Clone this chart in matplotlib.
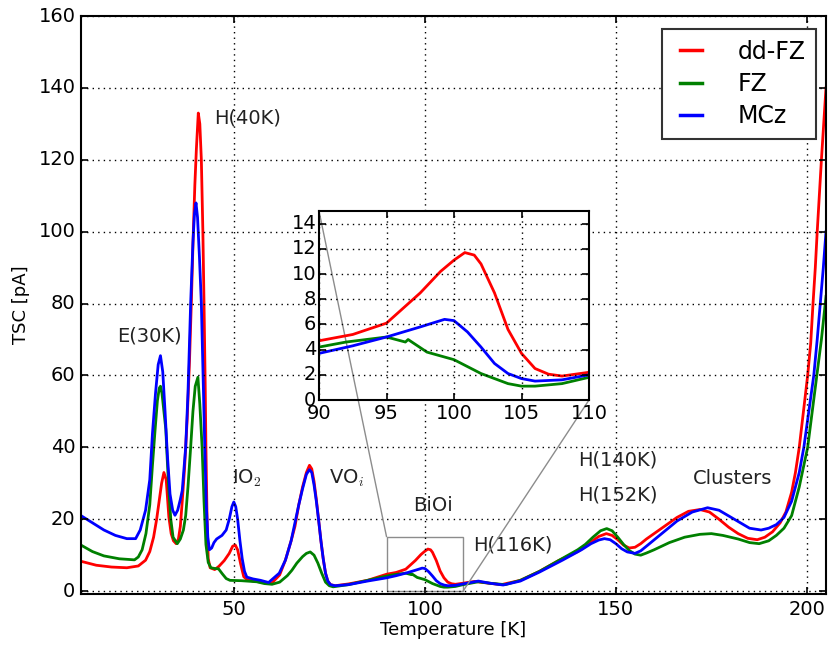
import matplotlib
matplotlib.use("Agg")
import matplotlib.pyplot as plt
from mpl_toolkits.axes_grid1.inset_locator import mark_inset

plt.style.use("classic")
plt.rcParams["font.family"] = ["DejaVu Sans"]

# ---- data ----
ddfz_T = [10, 14, 18, 22, 25, 26.9, 28, 29, 29.8, 30.5,
          31.1, 31.7, 32.3, 33, 33.6, 34.2, 34.9, 35.5, 36, 36.5,
          37.1, 37.8, 38.4, 38.9, 39.4, 39.8, 40.2, 40.7, 41.1, 41.5,
          41.9, 42.2, 42.5, 42.7, 43, 43.3, 43.8, 45, 46.1, 47.5,
          48.8, 49.7, 50.4, 51, 51.8, 52.6, 53.5, 55, 58, 60,
          62, 63.5, 65, 66, 67, 68, 69, 69.8, 70.4, 71,
          71.6, 72.2, 72.8, 73.4, 74, 74.6, 75.3, 76.5, 80, 85,
          90, 92.5, 95, 97.5, 99, 100, 100.8, 101.5, 102, 103, 104,
          105, 106, 107, 108, 110, 113, 116, 120, 125, 130,
          135, 140, 143, 145.5, 147.5, 149, 150.5, 152, 153.5, 155,
          156.5, 158, 162, 166, 169, 172, 174.5, 177, 179.5, 182,
          184.5, 187, 189, 191, 193, 194.5, 196, 197, 198, 199.2,
          200.2, 201, 201.6, 202.2, 202.7, 203.3, 203.8, 204.4, 205]
ddfz_I = [8.3, 7.2, 6.7, 6.5, 7, 8.6, 11, 15, 20, 25.5,
          30, 33, 31, 20.6, 16, 14, 13.2, 14.5, 18, 25,
          34, 48, 64, 81, 100, 113, 123, 133, 130, 120,
          100, 80, 58, 40, 20, 9, 6.5, 6, 6.9, 8.5,
          10.5, 12.5, 12.8, 11.5, 7.5, 4, 3.2, 2.8, 2.4, 2.3,
          4.5, 8.6, 14, 18, 24, 29, 33, 35, 34, 30.5,
          25.5, 19.7, 14, 9, 5, 2.8, 1.8, 1.5, 2, 3,
          4.7, 5.2, 6.1, 8.5, 10.2, 11.1, 11.7, 11.5, 10.8, 8.5, 5.6,
          3.7, 2.5, 2.05, 1.9, 2.2, 2.7, 2.3, 1.8, 3, 5.5,
          8.5, 11, 13.3, 15.2, 16, 15.5, 14.3, 12.8, 12, 12.2,
          13.2, 14.5, 17.5, 20.5, 22.2, 22.7, 22, 20, 17.8, 16,
          14.7, 14.3, 15, 16.5, 19, 22, 27.5, 33, 40, 51,
          60, 69, 80, 90, 100, 111, 120, 130, 140]

fz_T = [10, 13, 16, 20, 24, 25, 26, 27, 28, 28.7,
        29.4, 30, 30.5, 30.8, 31.2, 31.7, 32.2, 32.6, 33, 33.5,
        34.1, 35.2, 36, 36.8, 37.4, 38, 38.7, 39.3, 39.9, 40.6,
        41.1, 41.7, 42.2, 42.7, 43.3, 44, 45, 46, 47, 48,
        49, 52, 56, 58, 60, 62, 64, 65.2, 66.5, 68,
        69, 70, 71, 72, 73, 74, 75, 76, 80, 85,
        90, 92, 95, 96.4, 96.6, 98, 100, 102, 104, 105,
        106, 108, 110, 114, 117, 121, 125, 130, 135, 140,
        142, 144, 146, 147.6, 149, 150.5, 152, 153.5, 155, 156.5,
        158, 160, 164, 168, 172, 175, 178, 182, 185, 187.5,
        190, 192, 194, 196, 198, 199.2, 200.2, 201.4, 202.6, 203.8,
        205]
fz_I = [12.8, 11, 9.8, 9, 8.7, 9.5, 11.5, 16, 24, 35,
        45, 53, 56.5, 57, 55, 50, 45, 36, 28, 20,
        15, 13.2, 14.5, 17, 21, 29, 40, 50, 57, 59.5,
        52, 40, 25, 13, 8, 6.5, 6.3, 6.2, 4.8, 3.5,
        3, 2.9, 2.6, 2.1, 1.9, 2.5, 4.3, 5.8, 7.8, 9.6,
        10.5, 10.9, 10, 7.8, 5, 2.5, 1.5, 1.2, 1.8, 3,
        4.2, 4.6, 5.0, 4.6, 4.8, 3.8, 3.2, 2.1, 1.3, 1.1,
        1.1, 1.3, 1.8, 2.6, 2.2, 1.8, 3, 5.5, 8.5, 11.5,
        13, 15, 16.8, 17.4, 16.8, 15, 13, 11.3, 10.3, 10,
        10.6, 11.5, 13.5, 15, 15.8, 16, 15.5, 14.5, 13.5, 13.2,
        14, 15.5, 17.5, 21, 29, 35, 40, 50, 60, 70,
        82]

mcz_T = [10, 13, 16, 19, 22, 24.3, 25.5, 26.9, 28, 28.7,
         29.5, 30.2, 30.8, 31.4, 32, 32.6, 33.3, 34, 34.6, 35.3,
         36, 36.5, 37.4, 38, 38.7, 39.3, 39.7, 40.1, 40.5, 41,
         41.5, 42, 42.4, 42.8, 43.2, 43.6, 44.2, 44.8, 45.5, 46.9,
         48, 48.8, 49.5, 50, 50.5, 51, 51.6, 52.2, 52.8, 53.4,
         55, 57, 59.1, 61.9, 63.5, 65, 67, 68, 69, 69.8,
         70.4, 71, 71.6, 72.2, 72.8, 73.4, 74, 74.6, 75.3, 76.5,
         80, 85, 90, 92.5, 95, 97.5, 99.3, 100, 101, 102,
         103, 104, 105, 106, 108, 110, 114, 117, 120.5, 125,
         130, 136, 141, 143.5, 145.5, 147, 148.5, 150, 151.5, 153,
         155, 156.5, 158, 162, 166, 170, 174, 177, 181, 185,
         188, 190, 192, 194, 196, 198, 199.2, 200.5, 201.8, 202.7,
         203.5, 204.3, 205]
mcz_I = [21, 19, 17, 15.5, 14.6, 14.6, 17, 22.5, 31, 43.8,
         55, 63, 65.5, 61, 50, 38, 27, 22.5, 21.1, 22.5,
         25.5, 28, 40, 55, 80, 97, 105, 108, 104, 93,
         80, 58, 40, 24, 15, 11.5, 12, 13.5, 14.5, 15.5,
         17, 20, 23.5, 24.8, 23.5, 20, 14, 9, 5.5, 3.9,
         3.4, 3, 2.4, 5, 8.6, 14, 24, 28.5, 32.5, 33.8,
         33, 29.5, 25, 19.7, 14, 9, 5, 2.8, 1.8, 1.5,
         1.8, 2.8, 3.7, 4.3, 5.0, 5.8, 6.4, 6.3, 5.4, 4.2,
         2.9, 2.1, 1.7, 1.5, 1.6, 2.0, 2.8, 2.2, 1.7, 2.8,
         5.3, 8.6, 11.5, 13.2, 14.2, 14.6, 14.3, 13.2, 11.8, 10.9,
         10.5, 11.2, 12.5, 16, 19.5, 22, 23.2, 22.5, 20, 17.5,
         17, 17.5, 18.5, 20.5, 25, 33, 40, 50, 60, 70,
         80, 90, 100]

series = [("dd-FZ", ddfz_T, ddfz_I, "r"),
          ("FZ", fz_T, fz_I, "g"),
          ("MCz", mcz_T, mcz_I, "b")]

labels = [("E(30K)", 19.4, 71), ("H(40K)", 44.8, 131.7), ("IO$_2$", 49.5, 31.4),
          ("VO$_i$", 74.8, 31.4), ("BiOi", 97.0, 23.9), ("H(116K)", 112.7, 12.8),
          ("H(140K)", 140.2, 36.4), ("H(152K)", 140.2, 26.7), ("Clusters", 170.2, 31.4)]

main_xticks = [50, 100, 150, 200]
main_yticks = [0, 20, 40, 60, 80, 100, 120, 140, 160]
inset_xticks = [90, 95, 100, 105, 110]
inset_yticks = [0, 2, 4, 6, 8, 10, 12, 14]

W, H = 829, 647
fig = plt.figure(figsize=(W / 100, H / 100), dpi=100, facecolor="white")

ax = fig.add_axes([81 / W, 1 - 594 / H, (826 - 81) / W, (594 - 16) / H])
for name, T, I, c in series:
    ax.plot(T, I, color=c, lw=2, label=name)
ax.set_xlim(10, 205)
ax.set_ylim(-0.8, 160)
ax.set_xticks(main_xticks)
ax.set_yticks(main_yticks)
ax.grid(True, color="k", linestyle=":", linewidth=1)
ax.tick_params(labelsize=14, direction="in", length=5, width=1.2)
for s in ax.spines.values():
    s.set_linewidth(1.5)
ax.set_xlabel("Temperature [K]", fontsize=13, labelpad=2)
ax.set_ylabel("TSC [pA]", fontsize=13, labelpad=6)
for txt, x, y in labels:
    ax.text(x, y, txt, fontsize=14, ha="left", va="center", color="#222222")

leg = ax.legend(loc="upper right", bbox_to_anchor=(816 / W, 1 - 29 / H),
                bbox_transform=fig.transFigure, borderaxespad=0, fontsize=17,
                handlelength=1.55, handletextpad=1.2, labelspacing=0.35,
                borderpad=0.45, fancybox=False, numpoints=2)
leg.get_frame().set_linewidth(1.5)
leg.get_frame().set_edgecolor("#333333")
for l in leg.get_lines():
    l.set_linewidth(2.5)

axins = fig.add_axes([319 / W, 1 - 400 / H, (589 - 319) / W, (400 - 211) / H])
for name, T, I, c in series:
    axins.plot(T, I, color=c, lw=2)
axins.set_xlim(90, 110)
axins.set_ylim(0, 15)
axins.set_xticks(inset_xticks)
axins.set_yticks(inset_yticks)
axins.grid(True, color="k", linestyle=":", linewidth=1)
axins.tick_params(labelsize=14, direction="in", length=5, width=1.2, pad=2)
axins.tick_params(axis="x", pad=3)
for s in axins.spines.values():
    s.set_linewidth(1.5)

mark_inset(ax, axins, loc1=2, loc2=4, fc="none", ec="0.55", lw=1)

fig.savefig("out.png", dpi=100, facecolor="white")
